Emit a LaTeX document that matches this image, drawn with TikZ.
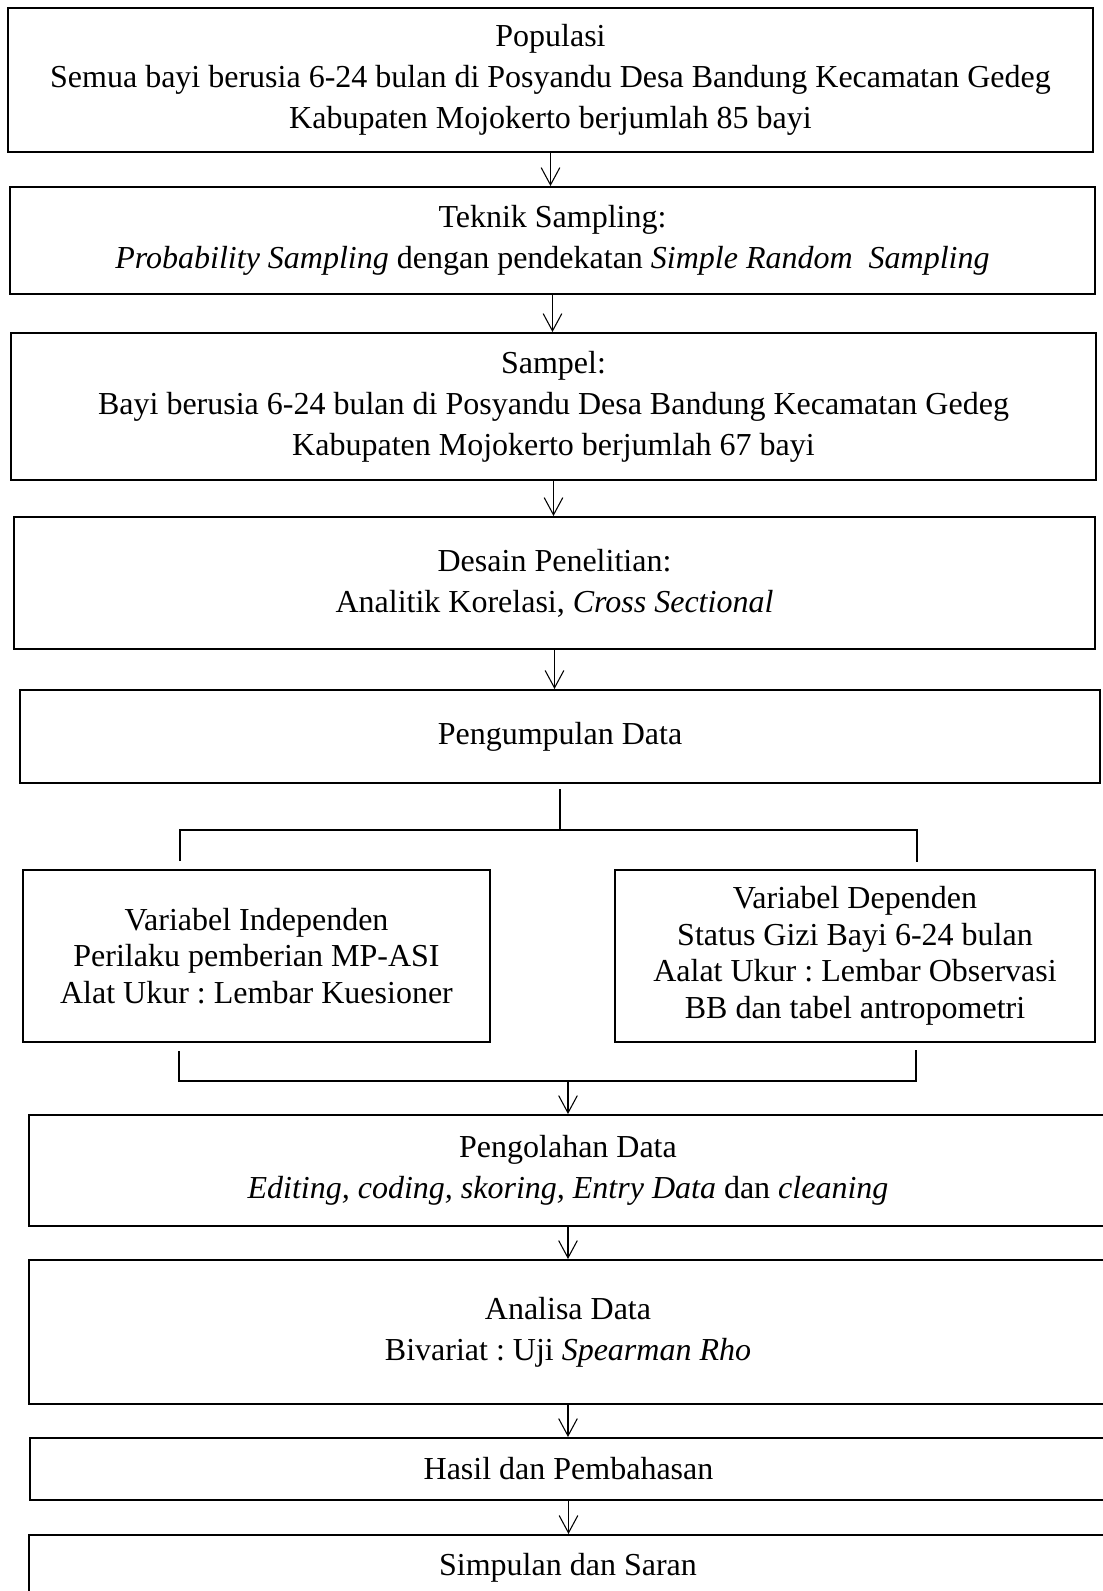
\documentclass[tikz,border=0pt]{standalone}
\usepackage{fontspec}
\setmainfont{Liberation Serif}
\frenchspacing
\usetikzlibrary{arrows.meta}
\tikzset{
    kotak/.style={draw, line width=0.75pt, align=center, inner sep=0pt, font=\fontsize{12}{15.4}\selectfont},
    kotakvar/.style={kotak, font=\fontsize{12}{13.7}\selectfont},
    panah/.style={-{Straight Barb[length=6.5pt,width=7pt]}, line width=0.4pt},
    garis/.style={line width=0.4pt}
}

\begin{document}
\begin{tikzpicture}[x=0.375pt, y=-0.375pt]
    \useasboundingbox (0,0) rectangle (1102,1591);
    \node[kotak, minimum width=406.9pt, minimum height=54pt] (populasi) at (550.5,80)
        {Populasi\\Semua bayi berusia 6-24 bulan di Posyandu Desa Bandung Kecamatan Gedeg\\Kabupaten Mojokerto berjumlah 85 bayi};
    \node[kotak, minimum width=406.9pt, minimum height=40.1pt] (teknik) at (552.5,240.5)
        {Teknik Sampling:\\\textit{Probability Sampling} dengan pendekatan \textit{Simple Random~ Sampling}};
    \node[kotak, minimum width=406.9pt, minimum height=55.1pt] (sampel) at (553.5,406.5)
        {Sampel:\\Bayi berusia 6-24 bulan di Posyandu Desa Bandung Kecamatan Gedeg\\Kabupaten Mojokerto berjumlah 67 bayi};
    \node[kotak, minimum width=405.4pt, minimum height=49.5pt] (desain) at (554.5,583)
        {Desain Penelitian:\\Analitik Korelasi, \textit{Cross Sectional}};
    \node[kotak, minimum width=405pt, minimum height=34.9pt] (kumpul) at (560,736.5) {Pengumpulan Data};
    \node[kotakvar, minimum width=175.1pt, minimum height=64.5pt] (indep) at (256.5,956)
        {Variabel Independen\\Perilaku pemberian MP-ASI\\Alat Ukur : Lembar Kuesioner};
    \node[kotakvar, minimum width=180pt, minimum height=64.5pt] (dep) at (855,956)
        {Variabel Dependen\\Status Gizi Bayi 6-24 bulan\\Aalat Ukur : Lembar Observasi\\BB dan tabel antropometri};
    \node[kotak, minimum width=404.3pt, minimum height=41.6pt] (olah) at (568,1170.5)
        {Pengolahan Data\\\textit{Editing, coding, skoring, Entry Data} dan \textit{cleaning}};
    \node[kotak, minimum width=404.3pt, minimum height=54pt] (analisa) at (568,1332)
        {Analisa Data\\Bivariat : Uji \textit{Spearman Rho}};
    \node[kotak, minimum width=403.9pt, minimum height=23.25pt] (hasil) at (568.5,1469) {Hasil dan Pembahasan};
    \node[kotak, minimum width=404.3pt, minimum height=24.4pt] (simpulan) at (568,1567.5) {Simpulan dan Saran};

    % alur utama
    \draw[panah] (populasi.south) -- (populasi.south |- teknik.north);
    \draw[panah] (teknik.south) -- (teknik.south |- sampel.north);
    \draw[panah] (sampel.south) -- (sampel.south |- desain.north);
    \draw[panah] (desain.south) -- (desain.south |- kumpul.north);

    % percabangan variabel
    \coordinate (cabangkiri) at (180,830);
    \coordinate (cabangkanan) at (917,830);
    \coordinate (gabungkiri) at (179,1081);
    \coordinate (gabungkanan) at (916,1081);
    \draw[garis] ([yshift=-2pt]kumpul.south) -- (kumpul.south |- cabangkiri);
    \draw[garis] (cabangkiri |- indep.north) ++(0,-8) -- (cabangkiri) -- (cabangkanan) -- ++(0,32);
    \draw[garis] (gabungkiri |- indep.south) ++(0,8) -- (gabungkiri) -- (gabungkanan) -- ++(0,-31);
    \draw[panah] (olah.north |- gabungkiri) -- (olah.north);

    \draw[panah] (olah.south) -- (olah.south |- analisa.north);
    \draw[panah] (analisa.south) -- (analisa.south |- hasil.north);
    \draw[panah] (hasil.south) -- (hasil.south |- simpulan.north);
\end{tikzpicture}
\end{document}
